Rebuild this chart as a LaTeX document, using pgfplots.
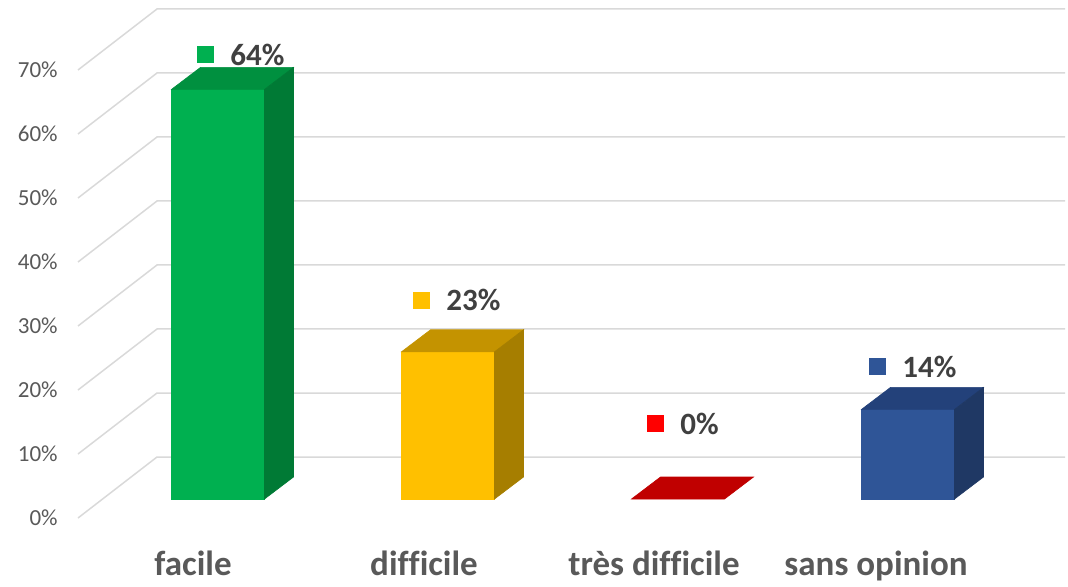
\documentclass[border=0pt]{standalone}
\usepackage{pgfplots}
\pgfplotsset{compat=1.18}
\usepackage{fontspec}
\setmainfont[Ligatures=NoCommon]{Carlito}
\definecolor{gridc}{HTML}{D9D9D9}
\definecolor{tickc}{HTML}{595959}
\definecolor{catc}{HTML}{595959}
\definecolor{valc}{HTML}{404040}
\definecolor{gF}{HTML}{00B050}\definecolor{gT}{HTML}{00903F}\definecolor{gS}{HTML}{007A35}
\definecolor{yF}{HTML}{FFC000}\definecolor{yT}{HTML}{C49300}\definecolor{yS}{HTML}{A67E00}
\definecolor{rF}{HTML}{FF0000}\definecolor{rT}{HTML}{C00000}
\definecolor{bF}{HTML}{2F5597}\definecolor{bT}{HTML}{23417A}\definecolor{bS}{HTML}{1F3864}
\begin{document}
\begin{tikzpicture}
\begin{axis}[
  x=115pt, y=3.2pt,
  xmin=-0.94783, xmax=3.69565, ymin=-13.594, ymax=77.969,
  axis line style={draw=none}, major tick length=0pt,
  clip=false,
  ytick={-2.96875,7.03125,17.03125,27.03125,37.03125,47.03125,57.03125,67.03125},
  yticklabels={0\%,10\%,20\%,30\%,40\%,50\%,60\%,70\%},
  yticklabel style={anchor=east, inner sep=0pt, xshift=29pt, text=tickc, font=\fontsize{11.5}{13}\selectfont},
  xtick={-0.1087,0.8957,1.8957,2.8609},
  xticklabels={facile,difficile,très difficile,sans opinion},
  xticklabel style={anchor=base, yshift=5.5pt, text=catc, font=\fontsize{17.5}{20}\selectfont\bfseries},
]
% grid: left wall diagonals + back wall lines
\pgfplotsinvokeforeach{0,10,20,30,40,50,60,70}{
  \draw[gridc, line width=0.75pt] (axis cs:-0.6087,{#1-2.96875}) -- (axis cs:-0.2652,{#1+6.5625}) -- (axis cs:3.6826,{#1+6.5625});
}
% front faces
\addplot[ybar, bar width=0.4043, bar shift=0pt, fill=gF, draw=gF, line width=0.3pt] coordinates {(0,64)};
\addplot[ybar, bar width=0.4043, bar shift=0pt, fill=yF, draw=yF, line width=0.3pt] coordinates {(1,23)};
\addplot[ybar, bar width=0.4043, bar shift=0pt, fill=bF, draw=bF, line width=0.3pt] coordinates {(3,14)};
% top faces
\addplot[fill=gT, draw=gT, line width=0.3pt] coordinates {(-0.2022,64) (0.2022,64) (0.3283,67.4375) (-0.0761,67.4375)} -- cycle;
\addplot[fill=yT, draw=yT, line width=0.3pt] coordinates {(0.7978,23) (1.2022,23) (1.3283,26.4375) (0.9239,26.4375)} -- cycle;
\addplot[fill=rT, draw=rT, line width=0.3pt] coordinates {(1.7978,0) (2.2022,0) (2.3283,3.4375) (1.9239,3.4375)} -- cycle;
\addplot[fill=bT, draw=bT, line width=0.3pt] coordinates {(2.7978,14) (3.2022,14) (3.3283,17.4375) (2.9239,17.4375)} -- cycle;
% side faces
\addplot[fill=gS, draw=gS, line width=0.3pt] coordinates {(0.2022,0) (0.3283,3.4375) (0.3283,67.4375) (0.2022,64)} -- cycle;
\addplot[fill=yS, draw=yS, line width=0.3pt] coordinates {(1.2022,0) (1.3283,3.4375) (1.3283,26.4375) (1.2022,23)} -- cycle;
\addplot[fill=bS, draw=bS, line width=0.3pt] coordinates {(3.2022,0) (3.3283,3.4375) (3.3283,17.4375) (3.2022,14)} -- cycle;
% data labels
\newcommand{\vlab}[2]{{\textcolor{#1}{\raisebox{1pt}{\rule{8.5pt}{8.5pt}}}\hspace{8pt}\textcolor{valc}{#2}}}
\node[anchor=base west, inner sep=0pt, font=\fontsize{15.5}{18}\selectfont\bfseries] at (axis cs:-0.0913,67.81) {\vlab{gF}{64\%}};
\node[anchor=base west, inner sep=0pt, font=\fontsize{15.5}{18}\selectfont\bfseries] at (axis cs:0.8478,29.375) {\vlab{yF}{23\%}};
\node[anchor=base west, inner sep=0pt, font=\fontsize{15.5}{18}\selectfont\bfseries] at (axis cs:1.8652,10.156) {\vlab{rF}{0\%}};
\node[anchor=base west, inner sep=0pt, font=\fontsize{15.5}{18}\selectfont\bfseries] at (axis cs:2.8304,19.06) {\vlab{bF}{14\%}};
\end{axis}
\pgfresetboundingbox
\useasboundingbox (current axis.south west) rectangle (current axis.north east);
\end{tikzpicture}
\end{document}
